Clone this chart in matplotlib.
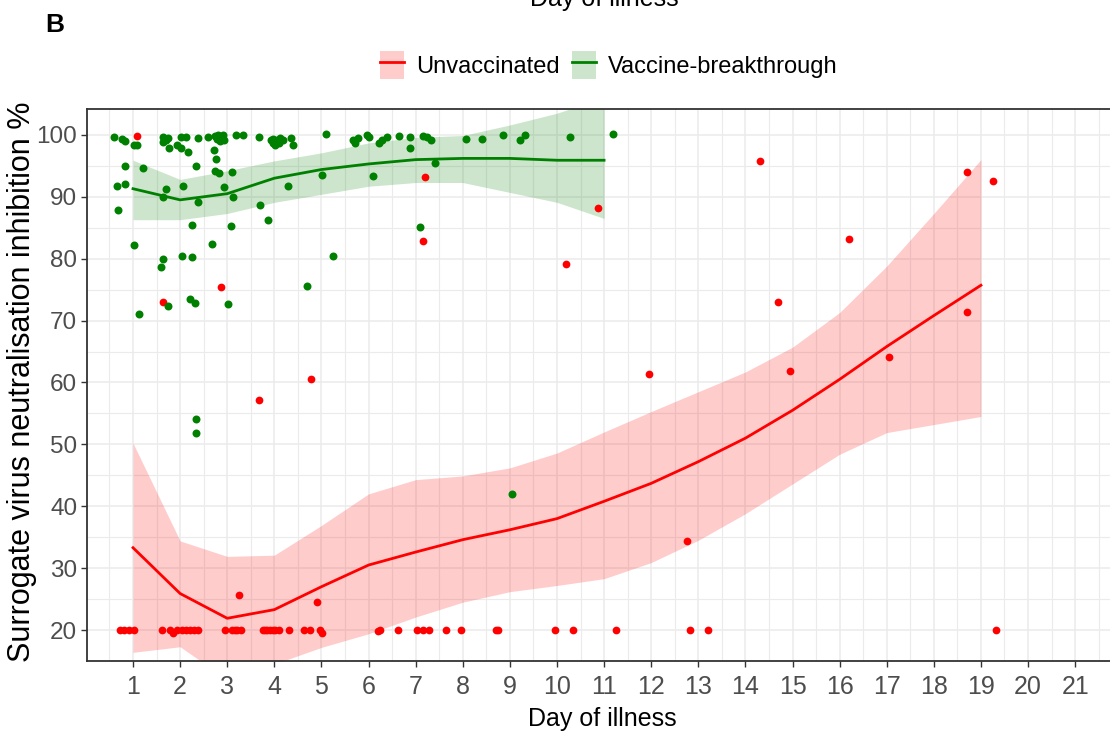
import matplotlib
matplotlib.use("Agg")
import matplotlib.pyplot as plt
from matplotlib.patches import Patch
from matplotlib.lines import Line2D
from matplotlib.legend_handler import HandlerTuple
import numpy as np

plt.rcParams['font.family'] = ['Liberation Sans', 'DejaVu Sans']

# ---------------- data ----------------
red_day = [0.72, 0.81, 0.91, 1.03, 1.62, 1.79, 1.84, 1.93, 2.03, 2.13, 2.21, 2.30, 2.39,
           2.95, 3.11, 3.17, 3.21, 3.29, 3.75, 3.80, 3.85, 3.91, 3.97, 4.01, 4.09, 4.31,
           4.62, 4.76, 4.96, 5.02, 6.21, 6.24, 6.63, 7.02, 7.16, 7.28, 7.65, 7.96, 8.71,
           8.75, 9.96, 10.35, 11.26, 12.82, 13.20, 19.32,
           1.08, 1.63, 2.87, 3.25, 3.68, 4.78, 4.90, 7.20, 7.15, 10.20, 10.87, 11.95,
           12.75, 14.30, 14.70, 14.95, 16.20, 17.05, 18.70, 18.70, 19.25]
red_svnt = [20, 20, 20, 20, 20, 20, 19.6, 20, 20, 20, 20, 20, 20,
            20, 20, 20, 20, 20, 20, 20, 20, 20, 20, 20, 20, 20,
            20, 20, 20, 19.6, 19.8, 20, 20, 20, 20, 20, 20, 20, 20,
            20, 20, 20, 20, 20, 20, 20,
            99.8, 73.0, 75.4, 25.6, 57.1, 60.6, 24.6, 93.2, 82.8, 79.2, 88.2, 61.4,
            34.4, 95.7, 73.0, 61.9, 83.1, 64.1, 94.0, 71.4, 92.5]

green_day = [0.60, 0.77, 0.82, 1.03, 1.08, 1.63, 1.64, 1.69, 1.75, 1.76,
             1.94, 2.01, 2.02, 2.13, 2.17, 2.39, 2.60,
             0.82, 1.21, 2.33, 0.67, 0.82, 1.70, 2.07,
             0.69, 1.03, 1.13, 1.63, 2.38, 2.25,
             1.63, 1.59, 2.05, 2.25, 1.74, 2.20, 2.31,
             2.67, 2.33, 2.33,
             2.74, 2.81, 2.86, 2.90, 2.93, 2.78, 2.85,
             2.72, 2.76, 2.74, 2.83, 3.10, 2.93,
             3.12, 3.09, 3.01,
             3.19, 3.34, 3.68,
             3.92, 3.98, 4.01, 4.06, 4.12, 4.19, 3.97, 4.09,
             4.35, 4.39, 4.28, 3.69, 3.87, 4.70,
             5.10, 5.02, 5.25,
             5.68, 5.71, 5.78, 5.96, 6.02, 6.23, 6.28, 6.40, 6.65, 6.89, 6.88, 6.10,
             7.16, 7.25, 7.32, 7.41, 7.09,
             8.06, 8.40, 8.85, 9.22, 9.32, 10.28, 11.20, 9.05]
green_svnt = [99.6, 99.4, 99.0, 98.3, 98.3, 99.6, 98.9, 99.2, 99.5, 97.8,
              98.3, 97.9, 99.6, 99.6, 97.2, 99.5, 99.6,
              95.0, 94.7, 95.0, 91.8, 92.0, 91.2, 91.8,
              87.8, 82.2, 71.0, 90.0, 89.1, 85.5,
              80.0, 78.6, 80.4, 80.2, 72.3, 73.5, 72.8,
              82.4, 54.1, 51.9,
              99.8, 100.0, 99.5, 99.9, 99.1, 99.3, 99.0,
              97.5, 96.1, 94.2, 93.8, 94.0, 91.5,
              90.0, 85.3, 72.7,
              99.9, 99.9, 99.7,
              99.2, 99.4, 98.4, 99.1, 99.5, 99.2, 98.7, 98.7,
              99.5, 98.3, 91.8, 88.6, 86.2, 75.6,
              100.1, 93.5, 80.4,
              99.2, 98.7, 99.5, 100.0, 99.6, 98.7, 99.2, 99.7, 99.8, 99.7, 97.8, 93.4,
              99.8, 99.6, 99.2, 95.4, 85.1,
              99.4, 99.4, 99.9, 99.1, 99.9, 99.7, 100.1, 41.9]

unvax_fit_day = list(range(1, 20))
unvax_fit = [33.3, 25.9, 21.9, 23.3, 27.0, 30.5, 32.6, 34.6, 36.2, 38.0, 40.8, 43.7,
             47.2, 51.0, 55.5, 60.5, 65.8, 70.8, 75.7]
unvax_hi = [50.2, 34.4, 31.9, 32.1, 36.9, 42.0, 44.3, 44.9, 46.2, 48.6, 52.0, 55.3,
            58.5, 61.7, 65.7, 71.3, 78.8, 87.3, 96.0]
unvax_lo = [16.4, 17.3, 12.0, 14.5, 17.2, 19.4, 22.1, 24.5, 26.2, 27.2, 28.3, 30.9,
            34.5, 38.8, 43.6, 48.4, 51.9, 53.2, 54.5]

vax_fit_day = list(range(1, 12))
vax_fit = [91.3, 89.5, 90.5, 93.0, 94.4, 95.3, 96.0, 96.2, 96.2, 95.9, 95.9]
vax_hi = [95.9, 92.8, 94.2, 95.8, 97.1, 98.7, 99.6, 99.9, 101.6, 103.5, 106.0]
vax_lo = [86.3, 86.3, 87.3, 89.1, 90.4, 91.7, 92.3, 92.3, 90.7, 89.1, 86.5]

x_ticks = list(range(1, 22))
y_ticks = list(range(20, 101, 10))

RED = '#FF0000'
GREEN = '#008000'

# ---------------- figure ----------------
fig = plt.figure(figsize=(11.10, 7.34), dpi=100)
L, R, T, B = 87, 1118, 109, 661
ax = fig.add_axes([L / 1110, 1 - B / 734, (R - L) / 1110, (B - T) / 734])

ax.set_xlim(0.023, 21.91)
ax.set_ylim(16.0, 104.18)

ax.fill_between(unvax_fit_day, unvax_lo, unvax_hi, color=RED, alpha=0.2, lw=0, zorder=2)
ax.fill_between(vax_fit_day, vax_lo, vax_hi, color=GREEN, alpha=0.2, lw=0, zorder=2)
ax.scatter(red_day, red_svnt, s=31, color=RED, lw=0, zorder=3)
ax.scatter(green_day, green_svnt, s=33, color=GREEN, lw=0, zorder=3)
ax.plot(unvax_fit_day, unvax_fit, color=RED, lw=2.0, zorder=4)
ax.plot(vax_fit_day, vax_fit, color=GREEN, lw=2.0, zorder=4)

ax.set_xticks(x_ticks)
ax.set_yticks(y_ticks)
ax.set_xticks([t - 0.5 for t in x_ticks] + [21.5], minor=True)
ax.set_yticks([t - 5 for t in y_ticks], minor=True)
ax.grid(which='major', color='#EBEBEB', lw=1.1, zorder=0)
ax.grid(which='minor', color='#EBEBEB', lw=0.8, zorder=0)
ax.set_axisbelow(True)
ax.tick_params(which='minor', length=0)
ax.tick_params(which='major', length=4, width=1, color='#333333',
               labelcolor='#4D4D4D', labelsize=18)
ax.tick_params(axis='y', labelsize=17.5, pad=3)
ax.tick_params(axis='x', pad=6)
for s in ax.spines.values():
    s.set_color('#333333')
    s.set_linewidth(1.3)

ax.set_xlabel('Day of illness', fontsize=18, labelpad=6)
ax.set_ylabel('Surrogate virus neutralisation inhibition %', fontsize=22)
ax.yaxis.set_label_coords(-50 / (R - L), 0.505)

# legend
h1 = (Patch(facecolor=RED, alpha=0.2, lw=0), Line2D([], [], color=RED, lw=2))
h2 = (Patch(facecolor=GREEN, alpha=0.2, lw=0), Line2D([], [], color=GREEN, lw=2))
fig.legend([h1, h2], ['Unvaccinated', 'Vaccine-breakthrough'],
           handler_map={tuple: HandlerTuple(ndivide=1, pad=0)},
           loc='center', bbox_to_anchor=(609 / 1110, 1 - 65 / 734), ncol=2,
           frameon=False, fontsize=17, handlelength=1.0, handleheight=1.5,
           handletextpad=0.5, columnspacing=0.55, borderpad=0)

fig.text(604 / 1110, 1 + 1 / 734, 'Day of illness', ha='center', va='center', fontsize=18)
fig.text(55 / 1110, 1 - 25 / 734, 'B', ha='center', va='center', fontsize=19,
         fontweight='bold')

fig.savefig('out.png', dpi=100)
